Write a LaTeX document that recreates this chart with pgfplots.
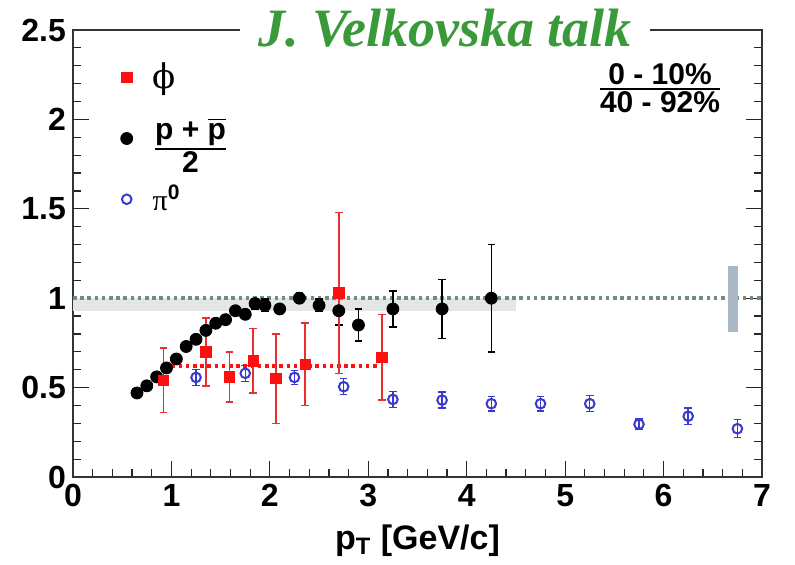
\documentclass[border=0pt]{standalone}
\usepackage{amsmath}
\usepackage{fontspec}
\setmainfont{Liberation Sans}
\newfontfamily\titlefont{Liberation Serif}
\newfontfamily\greekfont{Liberation Serif}
\newfontfamily\phifont{DejaVu Serif}
\usepackage{pgfplots}
\pgfplotsset{compat=1.18}
\definecolor{phired}{HTML}{FF1010}
\definecolor{phibar}{HTML}{E83030}
\definecolor{piblue}{HTML}{3A3AD0}
\definecolor{refgreen}{HTML}{6E8F80}
\definecolor{bandgray}{HTML}{E4E6E6}
\definecolor{sysbox}{HTML}{A9B8C4}
\definecolor{titlegreen}{HTML}{3A9A3A}

% p+pbar/2 : pT, ratio, error
\pgfplotstableread{
x y e
0.65 0.47 0.01
0.75 0.51 0.01
0.85 0.56 0.01
0.95 0.61 0.01
1.05 0.66 0.01
1.15 0.73 0.01
1.25 0.77 0.01
1.35 0.82 0.01
1.45 0.86 0.01
1.55 0.88 0.01
1.65 0.93 0.01
1.75 0.91 0.02
1.85 0.97 0.03
1.95 0.96 0.035
2.10 0.94 0.02
2.30 1.00 0.03
2.50 0.96 0.035
2.70 0.93 0.08
2.90 0.85 0.09
3.25 0.94 0.10
3.75 0.94 0.165
4.25 1.00 0.30
}\protons

\pgfplotstableread{
x y e
0.92 0.54 0.18
1.35 0.70 0.19
1.59 0.56 0.14
1.83 0.65 0.18
2.06 0.55 0.25
2.36 0.63 0.23
2.70 1.03 0.45
3.14 0.67 0.24
}\phimeson

\pgfplotstableread{
x y e
1.25 0.557 0.045
1.75 0.58 0.045
2.25 0.557 0.04
2.75 0.505 0.045
3.25 0.434 0.045
3.75 0.43 0.045
4.25 0.41 0.04
4.75 0.41 0.04
5.25 0.41 0.045
5.75 0.295 0.03
6.25 0.34 0.045
6.75 0.27 0.05
}\pizero

\begin{document}
\begin{tikzpicture}
\begin{axis}[
    width=344.5pt, height=223.5pt, scale only axis,
    xmin=0, xmax=7, ymin=0, ymax=2.5,
    xtick={0,1,...,7}, ytick={0,0.5,...,2.5},
    minor x tick num=4, minor y tick num=4,
    tick align=inside, xtick pos=left, ytick pos=both,
    major tick length=8pt, minor tick length=4pt,
    axis line style={line width=0.6pt, black!80},
    every tick/.style={black!85, line width=0.6pt},
    tick label style={font=\bfseries\fontsize{16}{16}\selectfont},
    /pgf/number format/assume math mode=true,
    xlabel={p\textsubscript{T} [GeV/c]},
    label style={font=\bfseries\fontsize{17}{17}\selectfont},
    xlabel style={yshift=-2pt},
    legend style={at={(rel axis cs:0.06,0.945)}, anchor=north west, draw=none, fill=none,
        font=\bfseries\fontsize{15}{18}\selectfont, row sep=9pt, column sep=8pt},
    legend cell align=left,
    clip=false,
]
\addlegendimage{only marks, mark=square*, mark size=2.6pt, color=phired}
\addlegendentry{{\phifont\mdseries\fontsize{17}{18}\selectfont ϕ}}
\addlegendimage{only marks, mark=*, mark size=3pt, color=black}
\addlegendentry{$\genfrac{}{}{1pt}{}{\mbox{p + $\overline{\mbox{p}}$}}{\mbox{2}}$}
\addlegendimage{only marks, mark=o, mark size=2.4pt, color=piblue, line width=1pt}
\addlegendentry{{\greekfont\mdseries π}\textsuperscript{0}}

% grey band and reference line at 1
\addplot[fill=bandgray, draw=none, forget plot] coordinates {(0,0.93) (4.5,0.93) (4.5,1.0) (0,1.0)} -- cycle;
\addplot[refgreen, line width=2pt, dash pattern=on 1.8pt off 1.8pt, forget plot] coordinates {(0,1) (7,1)};
\addplot[fill=sysbox, draw=none, forget plot] coordinates {(6.65,0.81) (6.76,0.81) (6.76,1.18) (6.65,1.18)} -- cycle;
\addplot[phired, line width=2pt, dash pattern=on 1.8pt off 1.8pt, forget plot] coordinates {(1.0,0.62) (3.12,0.62)};

\addplot[only marks, mark=*, mark size=3pt, color=black, forget plot,
    error bars/.cd, y dir=both, y explicit,
    error bar style={line width=0.7pt},
    error mark options={rotate=90, mark size=1.9pt, line width=0.7pt}]
    table[x=x, y=y, y error=e] {\protons};
\addplot[only marks, mark=o, mark size=2.4pt, color=piblue, line width=1pt, forget plot,
    error bars/.cd, y dir=both, y explicit,
    error bar style={line width=0.7pt},
    error mark options={rotate=90, mark size=1.9pt, line width=0.7pt}]
    table[x=x, y=y, y error=e] {\pizero};
\addplot[only marks, mark=square*, mark size=2.6pt, color=phired, forget plot,
    error bars/.cd, y dir=both, y explicit,
    error bar style={line width=0.8pt, phibar},
    error mark options={rotate=90, mark size=1.9pt, line width=0.8pt, phibar}]
    table[x=x, y=y, y error=e] {\phimeson};

\node[font=\bfseries\fontsize{15}{18}\selectfont] at (rel axis cs:0.852,0.87)
    {$\genfrac{}{}{1pt}{}{\mbox{0 - 10\%}}{\mbox{40 - 92\%}}$};
\node[fill=white, inner xsep=9pt, inner ysep=5pt, text=titlegreen,
    font=\titlefont\bfseries\itshape\fontsize{27}{27}\selectfont]
    at (rel axis cs:0.54,1.005) {J. Velkovska talk};
\end{axis}
\pgfresetboundingbox
\path ([xshift=-36.5pt, yshift=-43.5pt]current axis.south west)
    rectangle ([xshift=16.5pt, yshift=15pt]current axis.north east);
\end{tikzpicture}
\end{document}
